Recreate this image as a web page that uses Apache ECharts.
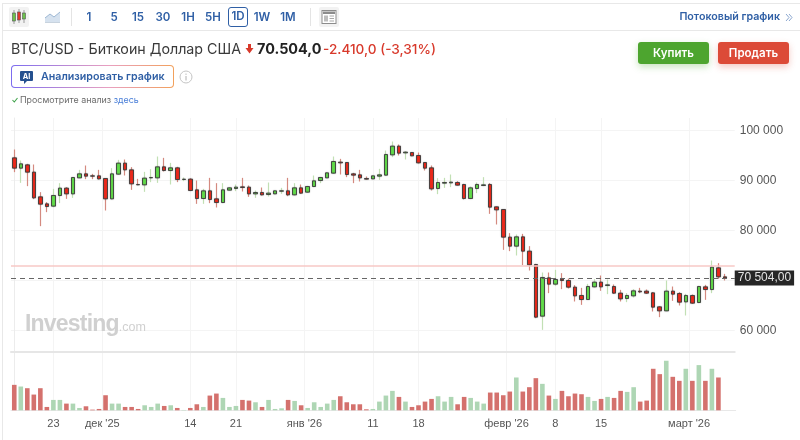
<!DOCTYPE html>
<html lang="ru">
<head>
<meta charset="utf-8">
<title>BTC/USD</title>
<script src="https://cdn.jsdelivr.net/npm/echarts@6/dist/echarts.min.js"></script>
<style>
  html, body { margin: 0; padding: 0; background: #fff; }
  #page { position: relative; width: 800px; height: 440px; overflow: hidden; font-family: Inter, "Noto Sans", sans-serif; }
  #chart { position: absolute; left: 0; top: 0; width: 800px; height: 440px; }
  #page > div.ui, #page > svg { position: absolute; white-space: nowrap; }
  .frame-top { left: 3px; top: 3px; width: 797px; height: 1px; background: #e8e8e8; }
  .frame-mid { left: 3px; top: 30px; width: 797px; height: 1px; background: #e8e8e8; }
  .frame-left { left: 2px; top: 3px; width: 1px; height: 437px; background: #e8e8e8; }
  .sep { top: 8px; width: 1px; height: 18px; background: #e4e4e4; }
  .tf { top: 7px; height: 20px; line-height: 20px; width: 22px; text-align: center; font-size: 11.5px; font-weight: 600; color: #2f5fa5; }
  .tf.on { box-sizing: border-box; line-height: 17px; border: 1.5px solid #2f5fa5; border-radius: 3px; width: 20px; height: 20px; }
  .title { left: 11px; top: 39px; font-size: 14.25px; line-height: 20px; color: #3a3a3a; }
  .price { left: 257px; top: 39px; font-size: 14.4px; line-height: 20px; font-weight: 700; color: #222; }
  .change { left: 323px; top: 39px; font-size: 13.6px; line-height: 20px; font-weight: 500; color: #d8392b; }
  .btn { top: 42px; width: 71px; height: 22px; line-height: 22px; border-radius: 3px; color: #fff; font-size: 11.5px; font-weight: 600; text-align: center; }
  .ai { left: 11px; top: 65px; width: 163px; height: 23px; box-sizing: border-box; border-radius: 4px; border: 1px solid transparent;
        background: linear-gradient(#fff, #fff) padding-box, linear-gradient(90deg, #7c6cf0, #e9a0c0 60%, #f2a15c) border-box; }
  .ai-text { left: 41px; top: 69px; line-height: 16px; font-size: 10.7px; font-weight: 600; color: #2f5fa5; }
  .note { left: 20px; top: 93px; line-height: 14px; font-size: 8.9px; color: #6b6b6b; }
  .note span { color: #4a7fd8; }
  .stream { right: 20px; top: 9px; line-height: 16px; font-size: 10.7px; font-weight: 600; color: #2f5fa5; }
  .wm { left: 25px; top: 310px; line-height: 26px; font-family: "Liberation Sans", sans-serif; font-size: 23px; font-weight: 700; color: #d0d0d0; letter-spacing: -0.8px; }
  .wm span { font-size: 12.5px; font-weight: 400; letter-spacing: 0; }
</style>
</head>
<body>
<div id="page">
  <div id="chart"></div>

  <div class="ui frame-top"></div>
  <div class="ui frame-mid"></div>
  <div class="ui frame-left"></div>

  <div class="ui" style="left:9px;top:7px;width:20px;height:20px;background:#f2f2f2;border-radius:2px"></div>
  <svg style="left:9px;top:7px" width="20" height="20">
    <path d="M5 3v14M10 2v14M15 3v13" stroke="#999" stroke-width="1"/>
    <rect x="3.5" y="6" width="3" height="8" fill="#6cc24a" stroke="#555" stroke-width=".6"/>
    <rect x="8.5" y="5" width="3" height="8" fill="#e0352b" stroke="#555" stroke-width=".6"/>
    <rect x="13.5" y="6" width="3" height="6" fill="#6cc24a" stroke="#555" stroke-width=".6"/>
  </svg>
  <svg style="left:45px;top:10px" width="16" height="14">
    <path d="M0 12V8L5 4L9 7L15 2V12Z" fill="#d6e2ef"/>
    <path d="M0 8L5 4L9 7L15 2" fill="none" stroke="#9db7d3" stroke-width="1"/>
    <path d="M0 12.5H15" stroke="#c8d3de" stroke-width="1"/>
  </svg>
  <div class="ui sep" style="left:71px"></div>
  <div class="ui tf" style="left:78px">1</div>
  <div class="ui tf" style="left:103px">5</div>
  <div class="ui tf" style="left:127px">15</div>
  <div class="ui tf" style="left:152px">30</div>
  <div class="ui tf" style="left:177px">1H</div>
  <div class="ui tf" style="left:202px">5H</div>
  <div class="ui tf on" style="left:228px">1D</div>
  <div class="ui tf" style="left:251px">1W</div>
  <div class="ui tf" style="left:277px">1M</div>
  <div class="ui sep" style="left:310px"></div>
  <div class="ui" style="left:319px;top:7px;width:20px;height:20px;background:#f2f2f2;border-radius:2px"></div>
  <svg style="left:319px;top:7px" width="20" height="20">
    <rect x="3" y="3.5" width="14" height="13" fill="#fff" stroke="#8c8c8c" stroke-width="1"/>
    <rect x="4" y="4.5" width="12" height="2.5" fill="#8c8c8c"/>
    <rect x="5" y="8.5" width="4" height="6" fill="#bdbdbd"/>
    <path d="M10.5 9H15M10.5 11.5H15M10.5 14H15" stroke="#a8a8a8" stroke-width="1"/>
  </svg>
  <div class="ui stream">Потоковый график</div>
  <svg style="left:785px;top:13px" width="8" height="9">
    <path d="M1 1L4 4.5L1 8M4 1L7 4.5L4 8" fill="none" stroke="#8aa6cf" stroke-width="1"/>
  </svg>

  <div class="ui title">BTC/USD - Биткоин Доллар США</div>
  <svg style="left:245px;top:44px" width="9" height="10"><path d="M3 0H6V4H8.5L4.5 9.5L.5 4H3Z" fill="#d8392b"/></svg>
  <div class="ui price">70.504,0</div>
  <div class="ui change">-2.410,0 (-3,31%)</div>

  <div class="ui btn" style="left:638px;background:#4da52f;box-shadow:0 3px 7px rgba(77,165,47,.3)">Купить</div>
  <div class="ui btn" style="left:718px;background:#dc4a37;box-shadow:0 3px 7px rgba(220,74,55,.3)">Продать</div>

  <div class="ui ai"></div>
  <svg style="left:20px;top:71px" width="13" height="13">
    <path d="M1 0H12Q13 0 13 1V9Q13 10 12 10H7L4 13V10H1Q0 10 0 9V1Q0 0 1 0Z" fill="#24508f"/>
    <text x="6.5" y="7.8" font-size="7.4" font-weight="700" fill="#fff" text-anchor="middle" font-family="Inter">AI</text>
  </svg>
  <div class="ui ai-text">Анализировать график</div>
  <svg style="left:179px;top:70px" width="14" height="14">
    <circle cx="7" cy="7" r="6" fill="none" stroke="#c4c4c4" stroke-width="1"/>
    <path d="M7 6V10.5M7 3.6V4.8" stroke="#b0b0b0" stroke-width="1"/>
  </svg>
  <svg style="left:12px;top:97px" width="6" height="6"><path d="M.5 3L2.3 5L5.5 1" fill="none" stroke="#3fa24a" stroke-width="1.1"/></svg>
  <div class="ui note">Просмотрите анализ <span>здесь</span></div>

  <div class="ui wm">Investing<span>.com</span></div>
</div>

<script>
const firstDay = Date.UTC(2025, 10, 17)

// цены по дням
const opens = [
  94530, 92470, 93130, 91670, 86730, 85330, 84870, 87000, 88470, 87330,
  90530, 91330, 90930, 90930, 90400, 86330, 91270, 93470, 92130, 89200,
  89130, 90530, 90530, 92730, 92000, 92530, 90200, 90270, 88130, 86400,
  87930, 86330, 85600, 88070, 88400, 88730, 88670, 87330, 87600, 87200,
  87330, 87870, 87930, 87130, 88530, 87670, 88800, 90000, 90530, 91470,
  93670, 93600, 91330, 91130, 90400, 90330, 90870, 91070, 95130, 96870,
  95530, 95600, 95000, 93600, 92530, 88400, 89470, 89530, 89600, 89200,
  86400, 88400, 89000, 89200, 84730, 84200, 78670, 76870, 78730, 75870,
  73200, 62870, 70530, 69270, 70270, 70000, 68670, 67000, 66200, 68730,
  69670, 69000, 68800, 67470, 66400, 66930, 67870, 67870, 67530, 64730,
  63930, 67870, 67400, 65730, 67000, 65600, 68730, 68200, 72530, 70730
]
const closes = [
  92470, 93330, 91670, 86530, 85270, 84800, 87000, 88470, 87330, 90600,
  91330, 90870, 90870, 90330, 86330, 91330, 93470, 92130, 89330, 89130,
  90470, 90600, 92730, 92000, 92530, 90200, 90270, 88000, 86400, 87930,
  86200, 85600, 88130, 88530, 88670, 88600, 87330, 87600, 87130, 87470,
  87930, 87930, 87130, 88530, 87470, 88800, 89930, 90600, 91530, 93800,
  93530, 91200, 91070, 90530, 90270, 90930, 91130, 95200, 96870, 95470,
  95670, 94930, 93530, 92470, 88330, 89600, 89600, 89670, 89070, 86400,
  88530, 89200, 89130, 84670, 84130, 78670, 76870, 78730, 75870, 73130,
  62670, 70600, 69270, 70200, 70000, 68670, 66930, 66200, 68800, 69670,
  68730, 69130, 67470, 66330, 67000, 67930, 67730, 67470, 64670, 63930,
  67870, 67270, 65670, 67000, 65470, 68800, 68200, 72670, 70730, 70504
]
const highs = [
  96200, 94000, 93330, 93200, 87670, 85670, 88330, 89470, 88670, 90670,
  92130, 93000, 91330, 92130, 90470, 92470, 94130, 94200, 92670, 90330,
  91730, 92270, 94800, 94530, 93530, 92730, 90600, 90470, 90000, 88330,
  90530, 89470, 89470, 88670, 89200, 90530, 89000, 88000, 88600, 89600,
  88000, 88530, 90530, 89470, 89200, 88930, 91000, 90730, 91670, 94800,
  94330, 93670, 91530, 92130, 90800, 91000, 92330, 96000, 97800, 97200,
  95870, 95670, 95600, 93670, 93000, 90470, 90530, 91200, 89870, 89330,
  88800, 89600, 90670, 89470, 84800, 84270, 79470, 79200, 79330, 76870,
  73330, 71600, 71600, 72130, 71470, 70400, 69070, 68530, 69330, 70270,
  71000, 70200, 69200, 68130, 67470, 68270, 68530, 68200, 67670, 64870,
  70000, 68800, 67670, 67330, 67200, 68930, 69130, 74000, 73470, 71330
]
const lows = [
  91670, 89530, 88870, 86270, 80870, 83670, 84670, 85470, 86330, 86530,
  90470, 90270, 90270, 90200, 84000, 86200, 91130, 91000, 88130, 89070,
  87730, 89670, 89530, 91800, 89200, 89670, 89870, 87870, 85330, 85330,
  85470, 84600, 85470, 88000, 87870, 87800, 86730, 86530, 87000, 86800,
  87270, 87330, 86870, 87000, 87330, 87530, 88670, 89470, 90470, 91330,
  91200, 90670, 89470, 89800, 90200, 90270, 90130, 91000, 94670, 95000,
  94200, 94870, 93400, 92000, 88000, 87270, 88530, 88670, 89000, 86200,
  86270, 87470, 88870, 83330, 81200, 76130, 75870, 75000, 73070, 72000,
  62470, 60130, 67470, 68930, 68270, 68400, 65800, 65130, 66130, 68600,
  67930, 67270, 67330, 65800, 65670, 66600, 67470, 67330, 63800, 62670,
  63870, 65930, 65000, 63000, 65330, 65470, 66130, 67470, 70330, 70000
]
const volumes = [
  76, 71, 66, 47, 66, 10, 31, 31, 20, 20,
  7, 12, 2, 4, 45, 20, 20, 10, 10, 4,
  15, 10, 20, 13, 15, 7, 1, 7, 18, 10,
  44, 50, 37, 10, 13, 31, 29, 24, 10, 31,
  4, 6, 31, 28, 15, 7, 24, 10, 20, 31,
  42, 24, 18, 18, 3, 4, 26, 44, 58, 40,
  26, 10, 15, 26, 34, 42, 26, 40, 18, 40,
  37, 26, 20, 53, 53, 45, 56, 98, 56, 69,
  96, 79, 44, 34, 58, 42, 50, 48, 40, 28,
  34, 40, 37, 58, 55, 69, 26, 29, 124, 108,
  148, 100, 88, 124, 88, 135, 88, 124, 98
]

const lastPrice = 70504
const prevClose = 72914

const tickDays = [6, 13.5, 27, 34, 44.5, 55, 62, 75.5, 83, 90, 103.5]
const tickLabels = ['23', "дек '25", '14', '21', "янв '26", '11', '18', "февр '26", '8', '15', "март '26"]

// один пустой день справа, чтобы линии цены доходили до шкалы
const categories = opens.map((_, i) => new Date(firstDay + i * 864e5).toISOString().slice(0, 10)).concat([''])

const upColor = '#62dc4a'
const downColor = '#ec2a1c'
const upWick = '#c2e0b4'
const downWick = '#d48a80'
const upVolume = '#aed6b4'
const downVolume = '#d4716d'
const gridColor = '#f4f4f4'
const axisFont = { color: '#555', fontSize: 11, fontFamily: '"Liberation Sans", sans-serif' }

const wickData = opens.map((o, i) => [o, closes[i], lows[i], highs[i]])
const bodyData = opens.map((o, i) => [o, closes[i], Math.min(o, closes[i]), Math.max(o, closes[i])])

const chart = echarts.init(document.getElementById('chart'), null, { renderer: 'canvas' })
chart.setOption({
  animation: false,
  backgroundColor: '#fff',
  grid: [
    { left: 11, right: 64.3, top: 118, bottom: 29.7 },
    { left: 11, right: 65.28, top: 130.5, bottom: 109.5 },
    { left: 11, right: 65.28, top: 351.7, bottom: 29.7 }
  ],
  xAxis: [
    {
      // сетка дат на всю высоту и подписи
      type: 'value',
      gridIndex: 0,
      min: -0.5,
      max: 110.65,
      axisLine: { onZero: false, lineStyle: { color: '#e8e8e8' } },
      axisTick: { show: false, customValues: tickDays },
      splitLine: { show: true, lineStyle: { color: gridColor } },
      axisLabel: {
        ...axisFont,
        margin: 8,
        customValues: tickDays,
        hideOverlap: false,
        formatter: v => tickLabels[tickDays.indexOf(v)]
      }
    },
    { type: 'category', gridIndex: 1, data: categories, show: false },
    {
      type: 'category',
      gridIndex: 2,
      data: categories,
      position: 'top',
      axisLine: { onZero: false, lineStyle: { color: '#e6e6e6', width: 2 } },
      axisTick: { show: false },
      axisLabel: { show: false }
    }
  ],
  yAxis: [
    {
      type: 'value',
      gridIndex: 0,
      position: 'right',
      axisLine: { show: true, lineStyle: { color: '#ececec' } },
      axisTick: { show: false },
      axisLabel: { show: false },
      splitLine: { show: false }
    },
    {
      type: 'value',
      gridIndex: 1,
      position: 'right',
      min: 60000,
      max: 100000,
      interval: 10000,
      axisLine: { show: false },
      axisTick: { show: false },
      splitLine: { lineStyle: { color: gridColor } },
      axisLabel: {
        ...axisFont,
        fontSize: 12,
        margin: 5,
        padding: [1, 0, 0, 0],
        formatter: v => String(v).replace(/(\d)(?=(\d{3})+$)/g, '$1 ')
      }
    },
    {
      type: 'value',
      gridIndex: 2,
      min: 0,
      max: 175,
      show: false
    }
  ],
  series: [
    {
      // тени
      type: 'candlestick',
      xAxisIndex: 1,
      yAxisIndex: 1,
      data: wickData,
      barWidth: 1,
      silent: true,
      itemStyle: {
        color: upWick,
        color0: downWick,
        borderColor: upWick,
        borderColor0: downWick,
        borderWidth: 1.2
      },
      markLine: {
        silent: true,
        symbol: 'none',
        animation: false,
        data: [
          {
            yAxis: prevClose,
            lineStyle: { color: '#f7c9c6', type: 'solid', width: 1.5 },
            label: { show: false }
          },
          {
            yAxis: lastPrice,
            lineStyle: { color: '#666', type: [5, 4], width: 1 },
            label: {
              show: true,
              position: 'end',
              distance: 0,
              formatter: '70 504,00',
              color: '#e4e4e4',
              fontSize: 12,
              fontFamily: '"Liberation Sans", sans-serif',
              backgroundColor: '#262626',
              padding: [2, 3, 1, 3]
            }
          }
        ]
      }
    },
    {
      // тела свечей
      type: 'candlestick',
      xAxisIndex: 1,
      yAxisIndex: 1,
      data: bodyData,
      barWidth: 4,
      silent: true,
      itemStyle: {
        color: upColor,
        color0: downColor,
        borderColor: '#3c3c3c',
        borderColor0: '#3c3c3c',
        borderWidth: 0.9,
        shadowBlur: 1.5,
        shadowColor: 'rgba(0, 0, 0, 0.25)'
      }
    },
    {
      type: 'bar',
      xAxisIndex: 2,
      yAxisIndex: 2,
      data: volumes,
      barWidth: 4.6,
      silent: true,
      itemStyle: {
        color: p => (closes[p.dataIndex] >= opens[p.dataIndex] ? upVolume : downVolume)
      }
    }
  ]
})
</script>
</body>
</html>
